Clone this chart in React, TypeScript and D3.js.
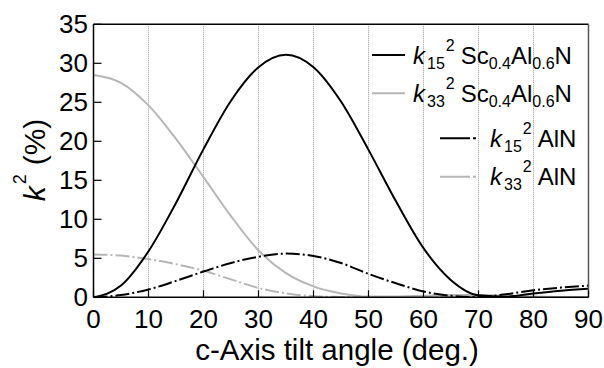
import React from "react";
import * as d3 from "d3";

const angles = [0, 5, 10, 15, 20, 25, 30, 35, 40, 45, 50, 55, 60, 65, 70, 75, 80, 85, 90];
const k15ScAlN = [0, 1.5, 5.9, 12.1, 19.0, 25.2, 29.5, 31.1, 29.5, 25.1, 18.9, 12.3, 6.3, 2.2, 0.25, 0.08, 0.5, 0.85, 1.1];
const k33ScAlN = [28.5, 27.5, 24.6, 20.3, 15.4, 10.4, 6.0, 3.1, 1.4, 0.5, 0.1, 0.1, 0.2, 0.3, 0.3, 0.2, 0.1, 0.03, 0];
const k15AlN = [0, 0.3, 1.0, 2.1, 3.3, 4.4, 5.2, 5.6, 5.3, 4.4, 3.0, 1.8, 0.75, 0.2, 0.03, 0.4, 0.9, 1.25, 1.5];
const k33AlN = [5.5, 5.35, 4.9, 4.25, 3.4, 2.3, 1.2, 0.5, 0.15, 0.05, 0.02, 0.05, 0.1, 0.12, 0.1, 0.06, 0.03, 0.01, 0];
const xTicks = [0, 10, 20, 30, 40, 50, 60, 70, 80, 90];
const yTicks = [0, 5, 10, 15, 20, 25, 30, 35];

const GRAY = "#b6b6b6";
const FONT = "'Liberation Sans', Arial, sans-serif";
const DASHDOT = "14,3,2,3";

const W = 604, H = 368;
const L = 93.5, R = 588.5, T = 24.3, B = 297.3;

export default function App() {
  const x = d3.scaleLinear().domain([0, 90]).range([L, R]);
  const y = d3.scaleLinear().domain([0, 35]).range([B, T]);
  const line = (vals: number[]) =>
    d3.line<number>()
      .x((_, i) => x(angles[i]))
      .y((v) => y(v))
      .curve(d3.curveMonotoneX)(vals) || "";

  const series = [
    { vals: k33AlN, color: GRAY, dash: DASHDOT },
    { vals: k33ScAlN, color: GRAY, dash: undefined },
    { vals: k15AlN, color: "#000", dash: DASHDOT },
    { vals: k15ScAlN, color: "#000", dash: undefined },
  ];

  const legend = [
    { ly: 55, x1: 372, x2: 405, tx: 413, color: "#000", dash: undefined, sub: "15", sc: true },
    { ly: 93.3, x1: 372, x2: 405, tx: 413, color: GRAY, dash: undefined, sub: "33", sc: true },
    { ly: 138.3, x1: 440, x2: 476, tx: 490, color: "#000", dash: "30,3,3,3", sub: "15", sc: false },
    { ly: 176.7, x1: 440, x2: 476, tx: 490, color: GRAY, dash: "30,3,3,3", sub: "33", sc: false },
  ];

  return (
    <svg width={W} height={H} style={{ position: "absolute", left: 0, top: 0 }} fontFamily={FONT}>
      <defs>
        <clipPath id="plot">
          <rect x={L} y={T} width={R - L} height={B - T + 1} />
        </clipPath>
      </defs>
      <rect x={0} y={0} width={W} height={H} fill="#fff" />
      {xTicks.slice(1, -1).map((t) => (
        <line key={"g" + t} x1={x(t)} x2={x(t)} y1={T} y2={B} stroke="#999" strokeWidth={1} strokeDasharray="1,1" />
      ))}
      <g clipPath="url(#plot)">
        {series.map((s, i) => (
          <path key={i} d={line(s.vals)} fill="none" stroke={s.color} strokeWidth={2} strokeDasharray={s.dash} />
        ))}
      </g>
      <line x1={L} x2={R} y1={T} y2={T} stroke="#000" strokeWidth={1.5} />
      <line x1={R} x2={R} y1={T} y2={B} stroke="#555" strokeWidth={1.5} />
      <line x1={L} x2={L} y1={T} y2={B} stroke="#000" strokeWidth={1.5} />
      <line x1={L} x2={R} y1={B} y2={B} stroke="#000" strokeWidth={1.5} />
      {yTicks.map((t) => (
        <g key={"y" + t}>
          <line x1={L} x2={L + 8} y1={y(t)} y2={y(t)} stroke="#000" strokeWidth={1.2} />
          <text x={88} y={y(t)} textAnchor="end" dominantBaseline="central" fontSize={26}>{t}</text>
        </g>
      ))}
      {xTicks.map((t) => (
        <g key={"x" + t}>
          <line x1={x(t)} x2={x(t)} y1={B} y2={B - 7} stroke="#000" strokeWidth={1.2} />
          <text x={x(t)} y={328} textAnchor="middle" fontSize={26}>{t}</text>
        </g>
      ))}
      <text x={337} y={360} textAnchor="middle" fontSize={29.5}>c-Axis tilt angle (deg.)</text>
      <text transform="translate(45,160) rotate(-90)" textAnchor="middle" fontSize={30}>
        <tspan fontStyle="italic">k</tspan>
        <tspan fontSize={18} dy={-19} dx={2}>2</tspan>
        <tspan dy={19} dx={9}>(%)</tspan>
      </text>
      {legend.map((e, i) => (
        <g key={"l" + i}>
          <line x1={e.x1} x2={e.x2} y1={e.ly} y2={e.ly} stroke={e.color} strokeWidth={2} strokeDasharray={e.dash} />
          <text x={e.tx} y={e.ly + 8.5} fontSize={24}>
            <tspan fontStyle="italic">k</tspan>
            <tspan fontSize={16} dy={5} dx={2}>{e.sub}</tspan>
            <tspan fontSize={16} dy={-18} dx={1}>2</tspan>
            {e.sc ? (
              <>
                <tspan dy={13} dx={6}>Sc</tspan>
                <tspan fontSize={16} dy={5}>0.4</tspan>
                <tspan dy={-5}>Al</tspan>
                <tspan fontSize={16} dy={5}>0.6</tspan>
                <tspan dy={-5}>N</tspan>
              </>
            ) : (
              <tspan dy={13} dx={6}>AlN</tspan>
            )}
          </text>
        </g>
      ))}
    </svg>
  );
}
